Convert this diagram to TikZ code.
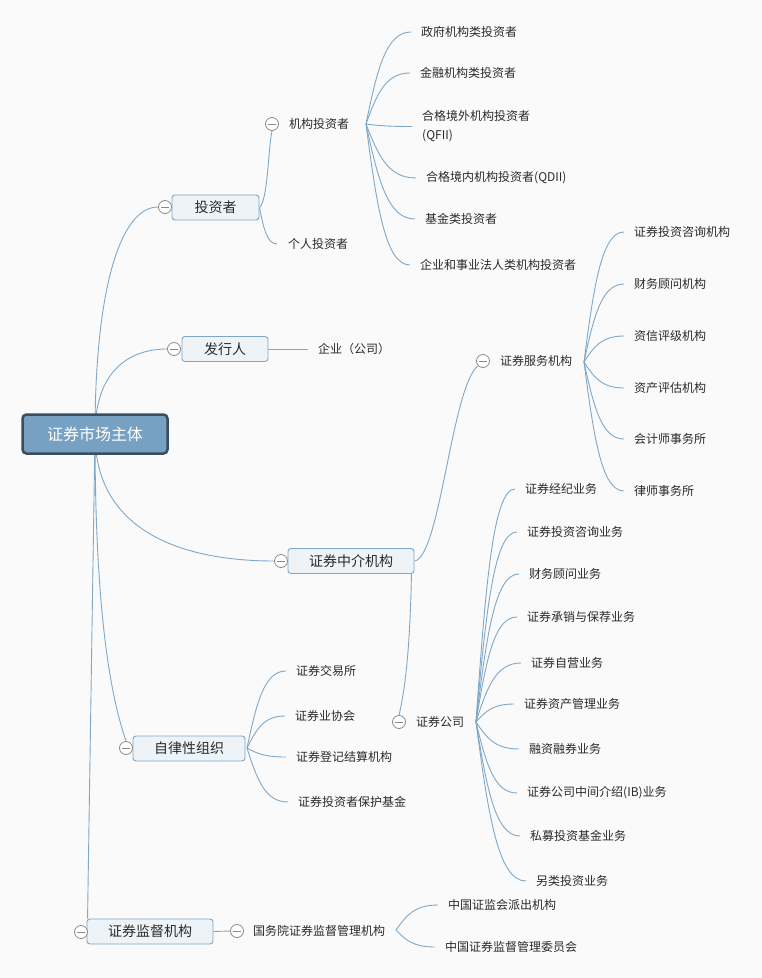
\documentclass[tikz,border=0pt]{standalone}
\usepackage{fontspec}
\setmainfont{Noto Sans CJK SC}
\usetikzlibrary{calc}
\definecolor{ln}{HTML}{7FA8C9}
\definecolor{bx}{HTML}{EEF3F7}
\definecolor{bxd}{HTML}{7FA6C6}
\definecolor{rootfill}{HTML}{76A1C2}
\definecolor{rootdraw}{HTML}{3A4E5E}
\definecolor{tg}{HTML}{8A8A8A}
\definecolor{bgc}{HTML}{FAFAFA}
\definecolor{txt}{HTML}{2A2A2A}
\pgfdeclarelayer{back}
\pgfdeclarelayer{bg}
\pgfsetlayers{back,bg,main}
\begin{document}
\begin{tikzpicture}[x=1pt,y=-1pt,
  conn/.style={draw=ln, line width=0.9pt},
  br/.style={to path={let \p1=(\tikztostart), \p2=(\tikztotarget) in
     .. controls ({\x1+0.25*(\x2-\x1)},{\y1+0.6*(\y2-\y1)}) and ({\x1+0.45*(\x2-\x1)},\y2) .. (\tikztotarget)}},
  rootbox/.style={draw=rootdraw, line width=2.5pt, fill=rootfill, rounded corners=4pt,
     minimum width=145pt, minimum height=39pt, text=white, font=\fontsize{16}{18}\selectfont},
  topic/.style={draw=bxd, line width=0.9pt, fill=bx, rounded corners=3pt,
     minimum height=25pt, inner sep=0pt, text=txt, font=\fontsize{14}{16}\selectfont},
  sub/.style={anchor=west, inner xsep=0pt, inner ysep=2pt, text=txt, font=\fontsize{12}{14}\selectfont},
  leaf/.style={anchor=west, inner xsep=10pt, inner ysep=2pt, text=txt, font=\fontsize{12}{19}\selectfont, align=left},
  tog/.style={circle, draw=tg, fill=white, line width=0.8pt, minimum size=13pt, inner sep=0pt,
     path picture={\draw[tg, line width=0.8pt] ([xshift=-4pt]path picture bounding box.center) -- ([xshift=4pt]path picture bounding box.center);}}
]
\begin{pgfonlayer}{back}
\fill[bgc] (0,0) rectangle (762,978);
\end{pgfonlayer}
\useasboundingbox (0,0) rectangle (762,978);

% root
\node[rootbox] (root) at (95,434) {证券市场主体};

% level 1
\node[topic, minimum width=87pt] (inv) at (215.5,207.5) {投资者};
\node[tog] (tinv) at (165,207) {};
\node[topic, minimum width=86pt] (iss) at (225,349) {发行人};
\node[tog] (tiss) at (174,349) {};
\node[topic, minimum width=126pt] (mid) at (351,561) {证券中介机构};
\node[tog] (tmid) at (281,561) {};
\node[topic, minimum width=112pt] (self) at (189,748.5) {自律性组织};
\node[tog] (tself) at (126,748) {};
\node[topic, minimum width=126pt] (reg) at (150,931.5) {证券监督机构};
\node[tog] (treg) at (81,932) {};

% level 2
\node[tog] (tinst) at (272,124) {};
\node[sub] (inst) at (289,124) {机构投资者};
\node[sub] (pers) at (277,244) {\hspace{11pt}个人投资者};
\node[sub] (corp) at (308,349) {\hspace{10pt}企业（公司）};
\node[tog] (tsvc) at (483,361) {};
\node[sub] (svc) at (500,361) {证券服务机构};
\node[tog] (tbrk) at (399,722) {};
\node[sub] (brk) at (416,722) {证券公司};
\node[tog] (tcsrc) at (237,931) {};
\node[sub] (csrc) at (253,931) {国务院证券监督管理机构};

% hubs
\coordinate (hA) at (366,124);
\coordinate (hB) at (584,362);
\coordinate (hC) at (476,722);
\coordinate (hD) at (247,748);
\coordinate (hE) at (396,930);

% leaves A
\node[leaf] (a1) at (411,32) {政府机构类投资者};
\node[leaf] (a2) at (410,73) {金融机构类投资者};
\node[leaf] (a3) at (412,126.5) {合格境外机构投资者\\(QFII)};
\node[leaf] (a4) at (416,178) {合格境内机构投资者(QDII)};
\node[leaf] (a5) at (415,219) {基金类投资者};
\node[leaf] (a6) at (410,265) {企业和事业法人类机构投资者};
% leaves B
\node[leaf] (b1) at (624,232) {证券投资咨询机构};
\node[leaf] (b2) at (624,284) {财务顾问机构};
\node[leaf] (b3) at (624,336) {资信评级机构};
\node[leaf] (b4) at (624,388) {资产评估机构};
\node[leaf] (b5) at (624,439) {会计师事务所};
\node[leaf] (b6) at (624,491) {律师事务所};
% leaves C
\node[leaf] (c1) at (515,489) {证券经纪业务};
\node[leaf] (c2) at (517,532) {证券投资咨询业务};
\node[leaf] (c3) at (519,574) {财务顾问业务};
\node[leaf] (c4) at (517,617) {证券承销与保荐业务};
\node[leaf] (c5) at (521,663) {证券自营业务};
\node[leaf] (c6) at (514,704) {证券资产管理业务};
\node[leaf] (c7) at (519,749) {融资融券业务};
\node[leaf] (c8) at (517,793) {证券公司中间介绍(IB)业务};
\node[leaf] (c9) at (520,836) {私募投资基金业务};
\node[leaf] (c10) at (526,881) {另类投资业务};
% leaves D
\node[leaf] (d1) at (286,671) {证券交易所};
\node[leaf] (d2) at (285,716) {证券业协会};
\node[leaf] (d3) at (286,757) {证券登记结算机构};
\node[leaf] (d4) at (288,802) {证券投资者保护基金};
% leaves E
\node[leaf] (e1) at (438,905) {中国证监会派出机构};
\node[leaf] (e2) at (435,947) {中国证券监督管理委员会};

\begin{pgfonlayer}{bg}
% root connectors
\draw[conn] (root.center) .. controls (95,290) and (120,207) .. (tinv.west);
\draw[conn] (root.center) .. controls (95,370) and (130,349) .. (tiss.west);
\draw[conn] (root.center) .. controls (95,530) and (180,561) .. (tmid.west);
\draw[conn] (root.center) .. controls (95,620) and (112,700) .. (tself.north);
\draw[conn] (root.center) -- ([xshift=1pt]reg.north west);
% level 1 to level 2
\draw[conn] (inv.east) .. controls (268,200) and (268,150) .. (tinst.south);
\draw[conn] (inv.east) to[br] (pers.west);
\draw[conn] (iss.east) -- (corp.west);
\draw[conn] (mid.east) .. controls (440,558) and (452,385) .. (tsvc.south west);
\draw[conn] ([xshift=-3pt]mid.south east) .. controls (410,650) and (405,690) .. (tbrk.north);
\draw[conn] (reg.east) -- (tcsrc.west);
% leaves
\foreach \l in {a1,a2,a3,a4,a5,a6} \draw[conn] (hA) to[br] (\l.west);
\foreach \l in {b1,b2,b3,b4,b5,b6} \draw[conn] (hB) to[br] (\l.west);
\foreach \l in {c1,c2,c3,c4,c5,c6,c7,c8,c9,c10} \draw[conn] (hC) to[br] (\l.west);
\foreach \l in {d1,d2,d3,d4} \draw[conn] (hD) to[br] (\l.west);
\foreach \l in {e1,e2} \draw[conn] (hE) to[br] (\l.west);
\end{pgfonlayer}
\end{tikzpicture}
\end{document}
